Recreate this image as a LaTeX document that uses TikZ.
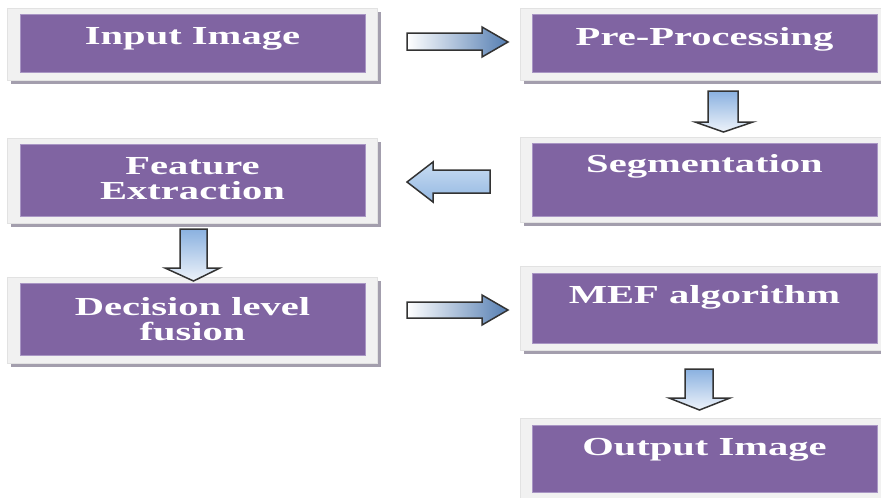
\documentclass[tikz,border=0pt]{standalone}
\usepackage{fontspec}
\newfontfamily\boxfont{Liberation Serif}[FakeStretch=1.56]
\usetikzlibrary{shadows}
\definecolor{boxpurple}{HTML}{8064A2}
\definecolor{boxedge}{HTML}{A996C4}
\definecolor{framegray}{HTML}{F1F1F1}
\definecolor{frameedge}{HTML}{E2E2E2}
\definecolor{shadowc}{HTML}{A39EAD}
\definecolor{arrowblue}{HTML}{557EB2}
\definecolor{downblue}{HTML}{8AB1E0}
\definecolor{downlight}{HTML}{EEF3FA}
\definecolor{leftlight}{HTML}{C8DCF2}
\definecolor{leftdark}{HTML}{94B8E2}
\definecolor{arrowline}{HTML}{333333}
\tikzset{
  framebox/.style={draw=frameedge, line width=0.6pt, fill=framegray, minimum width=370pt, inner sep=0pt,
    drop shadow={shadow xshift=3.5pt, shadow yshift=-3.5pt, fill=shadowc, opacity=1}},
  purplebox/.style={draw=boxedge, line width=0.8pt, fill=boxpurple, minimum width=345pt, inner sep=0pt},
  boxtext/.style={font=\boxfont\bfseries\fontsize{26}{24}\selectfont, text=white, inner sep=0pt, anchor=base},
  blockarrow/.style={draw=arrowline, line width=1.5pt, line join=miter},
  rightarrow/.style={blockarrow, left color=white, right color=arrowblue},
  downarrow/.style={blockarrow, top color=downblue, bottom color=downlight},
  leftarrow/.style={blockarrow, top color=leftlight, bottom color=leftdark}
}
\begin{document}
\begin{tikzpicture}[x=1pt,y=-1pt]
\useasboundingbox (0,0) rectangle (881,498);
\clip (0,0) rectangle (881,498);
% frames
\node[framebox, minimum height=72pt] (f1) at (192,44) {};
\node[framebox, minimum height=72pt] (f2) at (705,44) {};
\node[framebox, minimum height=85pt] (f3) at (705,179.5) {};
\node[framebox, minimum height=85pt] (f4) at (192,180.5) {};
\node[framebox, minimum height=86pt] (f5) at (192,320) {};
\node[framebox, minimum height=84pt] (f6) at (705,308) {};
\node[framebox, minimum height=88pt] (f7) at (705,462) {};
% purple boxes
\node[purplebox, minimum height=58pt] (b1) at (192.5,43) {};
\node[purplebox, minimum height=58pt] (b2) at (704.5,43) {};
\node[purplebox, minimum height=73pt] (b3) at (704.5,179.5) {};
\node[purplebox, minimum height=72pt] (b4) at (192.5,180) {};
\node[purplebox, minimum height=72pt] (b5) at (192.5,319) {};
\node[purplebox, minimum height=70pt] (b6) at (704.5,308) {};
\node[purplebox, minimum height=67pt] (b7) at (704.5,458.5) {};
% texts
\node[boxtext] (t1) at (192.5,44) {Input Image};
\node[boxtext] (t2) at (704.5,45) {Pre-Processing};
\node[boxtext] (t3) at (704.5,172) {Segmentation};
\node[boxtext] (t4a) at (192.5,174) {Feature};
\node[boxtext] (t4b) at (192.5,199) {Extraction};
\node[boxtext] (t5a) at (192.5,315) {Decision level};
\node[boxtext] (t5b) at (192.5,340) {fusion};
\node[boxtext] (t6) at (704.5,303) {MEF algorithm};
\node[boxtext] (t7) at (704.5,455) {Output Image};
% block arrows
\draw[rightarrow] (407,33) -- (482,33) -- (482,27) -- (508,42) -- (482,57) -- (482,50) -- (407,50) -- cycle;
\draw[downarrow] (708,91) -- (738,91) -- (738,122) -- (753,122) -- (723.5,132) -- (695,122) -- (708,122) -- cycle;
\draw[leftarrow] (490,170) -- (433,170) -- (433,162) -- (407,182) -- (433,202) -- (433,193) -- (490,193) -- cycle;
\draw[downarrow] (180,229) -- (207,229) -- (207,268) -- (220,268) -- (193.5,281) -- (165,268) -- (180,268) -- cycle;
\draw[rightarrow] (407,302) -- (482,302) -- (482,295) -- (508,310) -- (482,325) -- (482,318) -- (407,318) -- cycle;
\draw[downarrow] (685,369) -- (713,369) -- (713,398) -- (730,398) -- (699.5,410) -- (669,398) -- (685,398) -- cycle;
\end{tikzpicture}
\end{document}
